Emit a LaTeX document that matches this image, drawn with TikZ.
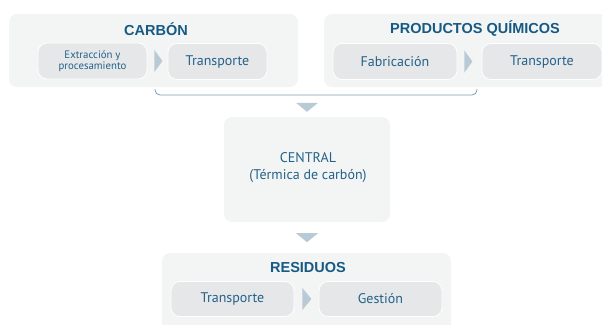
\documentclass[tikz,border=0pt]{standalone}
\usepackage{fontspec}
\setmainfont{PT Sans}
\newfontfamily\headfont{Liberation Sans}
\usepackage{xcolor}
\usepackage{tikz}
\usetikzlibrary{positioning,calc}

\definecolor{panelgray}{HTML}{F3F4F4}
\definecolor{boxgray}{HTML}{E6E7E8}
\definecolor{titleblue}{HTML}{165A84}
\definecolor{textblue}{HTML}{23628A}
\definecolor{tipblue}{HTML}{B9CAD7}
\definecolor{linkblue}{HTML}{7F9BB2}

\begin{document}
\begin{tikzpicture}[x=1pt, y=-1pt,
    panel/.style={fill=panelgray, rounded corners=8pt, inner sep=0pt},
    stage/.style={fill=boxgray, draw=white, line width=0.8pt, rounded corners=9pt, inner sep=0pt, font=\fontsize{14}{16}\selectfont, text=textblue, align=center},
    head/.style={font=\headfont\bfseries\fontsize{14.5}{16}\selectfont, text=titleblue},
    tip/.style={fill=tipblue},
]
\useasboundingbox (0,0) rectangle (602,324);
\clip (0,0) rectangle (602,324);

% supply chains
\node[panel, minimum width=289pt, minimum height=73pt] (cpanel) at (153.5,50.5) {};
\node[panel, minimum width=316pt, minimum height=73pt] (qpanel) at (482,50.5) {};
\node[head] (chead) at (156,29) {CARBÓN};
\node[head] (qhead) at (475,29) {PRODUCTOS QUÍMICOS};

\node[stage, minimum width=109pt, minimum height=36pt, font=\fontsize{10.8}{11.5}\selectfont] (extr) at (92.5,61) {Extracción y\\procesamiento};
\node[stage, minimum width=99pt, minimum height=36pt] (ctrans) at (217.5,61.5) {Transporte};
\node[stage, minimum width=124pt, minimum height=36pt] (fab) at (395,61.5) {Fabricación};
\node[stage, minimum width=120pt, minimum height=36pt] (qtrans) at (542,61.5) {Transporte};

\fill[tip] ($(extr.east)+(7,-11)$) -- ++(8,11) -- ++(-8,11) -- cycle;
\fill[tip] ($(fab.east)+(7,-11)$) -- ++(8,11) -- ++(-8,11) -- cycle;

\draw[linkblue, line width=0.8pt, rounded corners=5pt] (155,89) -- (155,95) -- (477,95) -- (477,89);

% power plant
\node[panel, minimum width=166pt, minimum height=105pt] (central) at (307,169.5) {};
\node[font=\fontsize{14}{17}\selectfont, text=textblue, align=center] (ctext) at (308,168) {CENTRAL\\(Térmica de carbón)};

\fill[tip] ($(central.north)+(-11,-14)$) -- ++(22,0) -- ++(-11,9) -- cycle;
\fill[tip] ($(central.south)+(-11,11)$) -- ++(22,0) -- ++(-11,9) -- cycle;

% waste
\node[panel, minimum width=289pt, minimum height=86pt] (rpanel) at (306.5,296) {};
\node[head] (rhead) at (308,268) {RESIDUOS};
\node[stage, minimum width=123pt, minimum height=35pt] (rtrans) at (232.5,299) {Transporte};
\node[stage, minimum width=123pt, minimum height=35pt] (gest) at (380.5,299) {Gestión};
\fill[tip] ($(rtrans.east)+(8,-11)$) -- ++(9,11) -- ++(-9,11) -- cycle;
\end{tikzpicture}
\end{document}
